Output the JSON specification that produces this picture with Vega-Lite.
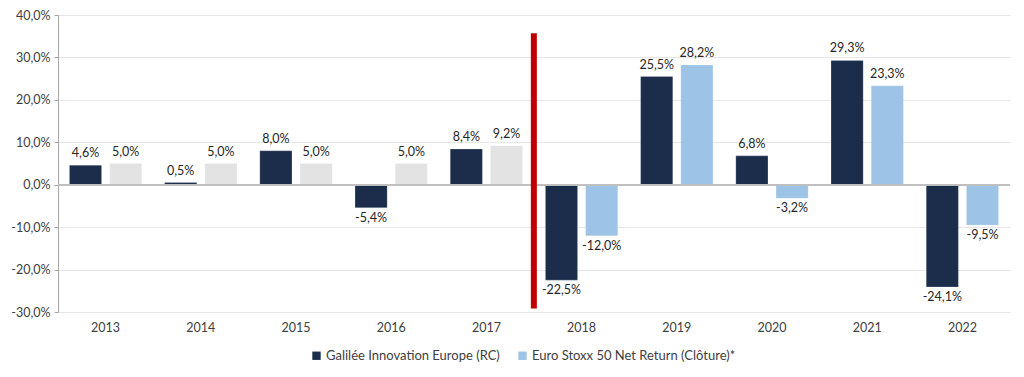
{
  "$schema": "https://vega.github.io/schema/vega-lite/v6.json",
  "width": 952,
  "height": 297,
  "autosize": {"type": "none"},
  "padding": {"left": 58, "top": 15, "right": 14, "bottom": 65},
  "background": "white",
  "config": {
    "locale": {"number": {"decimal": ",", "thousands": " ", "grouping": [3], "currency": ["", " €"], "minus": "-"}},
    "font": "Lato",
    "view": {"stroke": null}
  },
  "datasets": {
    "perf": [
      {"year": "2013", "series": "Galilée Innovation Europe (RC)", "value": 0.046},
      {"year": "2013", "series": "Euro Stoxx 50 Net Return (Clôture)*", "value": 0.05},
      {"year": "2014", "series": "Galilée Innovation Europe (RC)", "value": 0.005},
      {"year": "2014", "series": "Euro Stoxx 50 Net Return (Clôture)*", "value": 0.05},
      {"year": "2015", "series": "Galilée Innovation Europe (RC)", "value": 0.08},
      {"year": "2015", "series": "Euro Stoxx 50 Net Return (Clôture)*", "value": 0.05},
      {"year": "2016", "series": "Galilée Innovation Europe (RC)", "value": -0.054},
      {"year": "2016", "series": "Euro Stoxx 50 Net Return (Clôture)*", "value": 0.05},
      {"year": "2017", "series": "Galilée Innovation Europe (RC)", "value": 0.084},
      {"year": "2017", "series": "Euro Stoxx 50 Net Return (Clôture)*", "value": 0.092},
      {"year": "2018", "series": "Galilée Innovation Europe (RC)", "value": -0.225},
      {"year": "2018", "series": "Euro Stoxx 50 Net Return (Clôture)*", "value": -0.12},
      {"year": "2019", "series": "Galilée Innovation Europe (RC)", "value": 0.255},
      {"year": "2019", "series": "Euro Stoxx 50 Net Return (Clôture)*", "value": 0.282},
      {"year": "2020", "series": "Galilée Innovation Europe (RC)", "value": 0.068},
      {"year": "2020", "series": "Euro Stoxx 50 Net Return (Clôture)*", "value": -0.032},
      {"year": "2021", "series": "Galilée Innovation Europe (RC)", "value": 0.293},
      {"year": "2021", "series": "Euro Stoxx 50 Net Return (Clôture)*", "value": 0.233},
      {"year": "2022", "series": "Galilée Innovation Europe (RC)", "value": -0.241},
      {"year": "2022", "series": "Euro Stoxx 50 Net Return (Clôture)*", "value": -0.095}
    ],
    "marker": [{"year": "2018", "top": 0.357, "bottom": -0.292}]
  },
  "encoding": {
    "x": {
      "field": "year",
      "type": "nominal",
      "scale": {"paddingInner": 0.24, "paddingOuter": 0.12},
      "axis": {"title": null, "labelAngle": 0, "domain": false, "ticks": false, "labelPadding": 9, "labelFontSize": 12.5, "labelColor": "#404040", "grid": false}
    }
  },
  "layer": [
    {
      "data": {"name": "perf"},
      "mark": {"type": "bar", "stroke": "white", "strokeOpacity": 0.4, "strokeWidth": 0.5},
      "encoding": {
        "xOffset": {"field": "series", "type": "nominal", "sort": ["Galilée Innovation Europe (RC)", "Euro Stoxx 50 Net Return (Clôture)*"], "scale": {"paddingInner": 0.2}},
        "y": {
          "field": "value",
          "type": "quantitative",
          "scale": {"domain": [-0.3, 0.4], "nice": false},
          "axis": {"title": null, "format": ".1%", "values": [-0.3, -0.2, -0.1, 0, 0.1, 0.2, 0.3, 0.4], "gridColor": "#e6e6e6", "domainColor": "#a6a6a6", "tickColor": "#a6a6a6", "tickSize": 4, "labelFontSize": 12.5, "labelColor": "#404040", "labelPadding": 4}
        },
        "color": {
          "condition": {"test": "toNumber(datum.year) <= 2017 && datum.series == 'Euro Stoxx 50 Net Return (Clôture)*'", "value": "#e3e3e3"},
          "field": "series",
          "type": "nominal",
          "scale": {"domain": ["Galilée Innovation Europe (RC)", "Euro Stoxx 50 Net Return (Clôture)*"], "range": ["#1b2d4a", "#9dc3e6"]},
          "legend": {"title": null, "orient": "none", "legendX": 252, "legendY": 334, "direction": "horizontal", "symbolType": "square", "symbolSize": 70, "labelFontSize": 13, "labelLimit": 0, "labelColor": "#404040", "columnPadding": 16, "labelOffset": 3, "symbolStrokeWidth": 0}
        }
      }
    },
    {
      "data": {"name": "perf"},
      "mark": {"type": "rule", "color": "#bfbfbf", "strokeWidth": 1},
      "encoding": {"y": {"datum": 0}, "x": null}
    },
    {
      "data": {"name": "perf"},
      "transform": [{"filter": "datum.value >= 0"}],
      "mark": {"type": "text", "baseline": "bottom", "dy": -5, "fontSize": 12.5, "color": "#262626"},
      "encoding": {
        "xOffset": {"field": "series", "type": "nominal", "sort": ["Galilée Innovation Europe (RC)", "Euro Stoxx 50 Net Return (Clôture)*"]},
        "y": {"field": "value", "type": "quantitative"},
        "text": {"field": "value", "type": "quantitative", "format": ".1%"}
      }
    },
    {
      "data": {"name": "perf"},
      "transform": [{"filter": "datum.value < 0"}],
      "mark": {"type": "text", "baseline": "top", "dy": 4, "fontSize": 12.5, "color": "#262626"},
      "encoding": {
        "xOffset": {"field": "series", "type": "nominal", "sort": ["Galilée Innovation Europe (RC)", "Euro Stoxx 50 Net Return (Clôture)*"]},
        "y": {"field": "value", "type": "quantitative"},
        "text": {"field": "value", "type": "quantitative", "format": ".1%"}
      }
    },
    {
      "data": {"name": "marker"},
      "mark": {"type": "rule", "color": "#c00000", "strokeWidth": 6},
      "encoding": {
        "x": {"field": "year", "type": "nominal", "bandPosition": -0.16},
        "y": {"field": "top", "type": "quantitative"},
        "y2": {"field": "bottom"}
      }
    }
  ]
}
